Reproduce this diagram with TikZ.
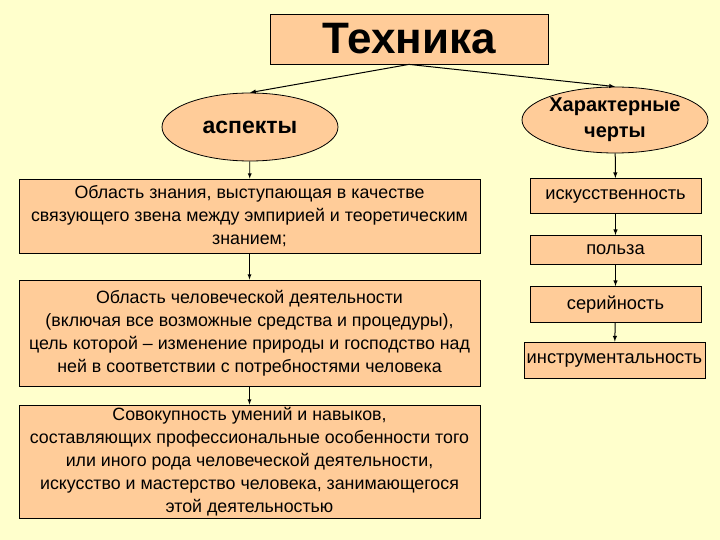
\documentclass[tikz,border=0pt]{standalone}
\usepackage{fontspec}
\setmainfont{Liberation Sans}
\usetikzlibrary{shapes.geometric}
\definecolor{paper}{HTML}{FFFFCC}
\definecolor{peach}{HTML}{FFCC99}
\begin{document}
\begin{tikzpicture}[x=1bp,y=-1bp]
\tikzset{base/.style={draw,fill=peach,line width=0.8bp,inner sep=0pt,align=center},
box/.style={base,rectangle,font=\fontsize{17.8bp}{23bp}\selectfont},
oval/.style={base,ellipse,minimum width=176bp,font=\bfseries\fontsize{20bp}{26bp}\selectfont},
trait/.style={box,minimum width=171bp,font=\fontsize{18.3bp}{23bp}\selectfont},
every path/.style={>=latex,line width=1bp}}
\fill[paper] (0,0) rectangle (720,540);
\useasboundingbox (0,0) rectangle (720,540);
\node[base,minimum width=278bp,minimum height=50bp,font=\bfseries\fontsize{44bp}{48bp}\selectfont] at (409,39) (TEC) {Техника};
\node[oval,minimum height=68bp,font=\bfseries\fontsize{23bp}{26bp}\selectfont] at (250,127) (ASP) {аспекты};
\node[oval,minimum width=186bp,minimum height=66bp] at (615,120) (CHR) {Характерные\\черты};
% aspects
\node[box,minimum width=461bp,minimum height=74bp] at (249.5,216) (A1) {Область знания, выступающая в качестве\\связующего звена между эмпирией и теоретическим\\знанием;};
\node[box,minimum width=461bp,minimum height=106bp] at (249.5,333) (A2) {Область человеческой деятельности\\(включая все возможные средства и процедуры),\\цель которой -- изменение природы и господство над\\ней в соответствии с потребностями человека};
\node[box,minimum width=461bp,minimum height=113bp] at (249.5,461.5) (A3) {Совокупность умений и навыков,\\составляющих профессиональные особенности того\\или иного рода человеческой деятельности,\\искусство и мастерство человека, занимающегося\\этой деятельностью};
% traits
\node[trait,minimum height=35bp] at (615.5,196) (C1) {искусственность};
\node[trait,minimum height=29bp] at (615.5,250) (C2) {польза};
\node[trait,minimum height=36bp] at (615.5,304.5) (C3) {серийность};
\node[trait,minimum width=181bp,minimum height=36bp] at (614.5,360) (C4) {инструментальность};
\draw[->] (TEC.south) -- (ASP.north);
\draw[->] (TEC.south) -- (CHR.north);
\draw[->,line width=0.8bp] (ASP) -- (A1);
\draw[->,line width=0.8bp] (A1) -- (A2);
\draw[->,line width=0.8bp] (A2) -- (A3);
\draw[->] (CHR) -- (C1);
\draw[->] (C1) -- (C2);
\draw[->] (C2) -- (C3);
\draw[->] (C3) -- (C4);
\end{tikzpicture}
\end{document}
